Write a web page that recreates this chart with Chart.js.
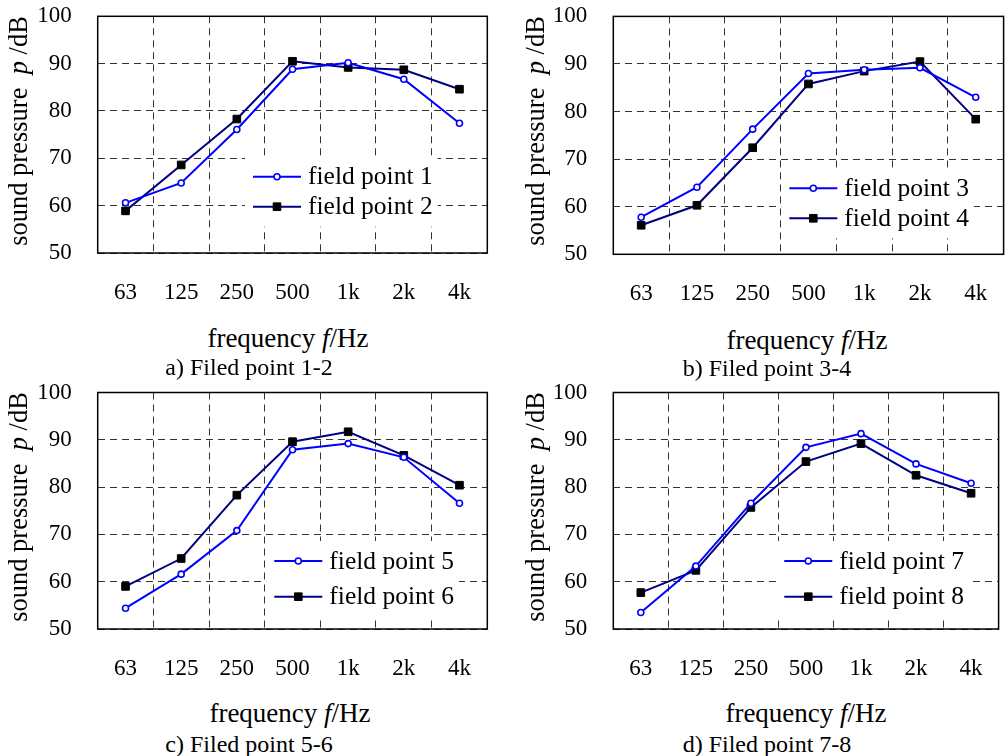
<!DOCTYPE html>
<html>
<head>
<meta charset="utf-8">
<script src="https://cdn.jsdelivr.net/npm/chart.js@4"></script>
<style>
  html, body { margin: 0; padding: 0; background: #fff; overflow: hidden; }
  body { width: 1005px; height: 756px; position: relative; font-family: "Liberation Serif", "Times New Roman", serif; color: #000; }
  canvas { position: absolute; }
  .lbl { position: absolute; white-space: nowrap; line-height: 1; transform: translate(-50%, -50%); }
  .ytitle { font-size: 26.5px; transform: translate(-50%, -50%) rotate(-90deg); }
  .xtitle { font-size: 27px; }
  .cap { font-size: 24px; }
</style>
</head>
<body>
<canvas id="chartA" width="500" height="320" style="left:0px;top:0px"></canvas>
<canvas id="chartB" width="510" height="320" style="left:500px;top:0px"></canvas>
<canvas id="chartC" width="500" height="320" style="left:0px;top:376px"></canvas>
<canvas id="chartD" width="505" height="320" style="left:500px;top:376px"></canvas>

<div class="lbl ytitle" style="left:18px;top:131px">sound pressure&nbsp;&nbsp;<i>p</i> /dB</div>
<div class="lbl ytitle" style="left:535px;top:131px">sound pressure&nbsp;&nbsp;<i>p</i> /dB</div>
<div class="lbl ytitle" style="left:18px;top:507px">sound pressure&nbsp;&nbsp;<i>p</i> /dB</div>
<div class="lbl ytitle" style="left:535px;top:507px">sound pressure&nbsp;&nbsp;<i>p</i> /dB</div>

<div class="lbl xtitle" style="left:288px;top:338px">frequency&nbsp;<i>f</i>/Hz</div>
<div class="lbl xtitle" style="left:807px;top:340px">frequency&nbsp;<i>f</i>/Hz</div>
<div class="lbl xtitle" style="left:290px;top:713px">frequency&nbsp;<i>f</i>/Hz</div>
<div class="lbl xtitle" style="left:806px;top:713px">frequency&nbsp;<i>f</i>/Hz</div>

<div class="lbl cap" style="left:249px;top:367px">a) Filed point 1-2</div>
<div class="lbl cap" style="left:767px;top:368px">b) Filed point 3-4</div>
<div class="lbl cap" style="left:249px;top:744px">c) Filed point 5-6</div>
<div class="lbl cap" style="left:767px;top:744px">d) Filed point 7-8</div>

<script>
'use strict';

// frequency bands and y ticks
var categories = ['63', '125', '250', '500', '1k', '2k', '4k'];
var yTicks = [50, 60, 70, 80, 90, 100];

// sound pressure per field point (dB)
var point1 = [60.6, 64.8, 76.1, 88.8, 90.2, 86.7, 77.4];
var point2 = [58.9, 68.6, 78.3, 90.5, 89.2, 88.7, 84.6];
var point3 = [57.8, 64.1, 76.3, 88.0, 88.8, 89.2, 83.0];
var point4 = [56.1, 60.3, 72.4, 85.8, 88.5, 90.5, 78.4];
var point5 = [54.4, 61.6, 70.8, 87.9, 89.2, 86.3, 76.6];
var point6 = [59.0, 64.9, 78.3, 89.6, 91.7, 86.7, 80.4];
var point7 = [53.5, 63.3, 76.6, 88.4, 91.3, 84.9, 80.8];
var point8 = [57.7, 62.4, 75.7, 85.4, 89.2, 82.5, 78.7];

var FONT = '"Liberation Serif", "Times New Roman", serif';

// draws the boxed frame and the legend inside the plot
var frameLegend = {
  id: 'frameLegend',
  beforeDatasetsDraw: function(chart) {
    var o = chart.options.plugins.frameLegend;
    var area = chart.chartArea;
    var ctx = chart.ctx;
    ctx.save();
    ctx.font = '25.5px ' + FONT;
    var maxW = 0;
    chart.data.datasets.forEach(function(ds) {
      maxW = Math.max(maxW, ctx.measureText(ds.label).width);
    });
    var x0 = area.left + o.x, y0 = area.top + o.y;
    ctx.fillStyle = '#fff';
    ctx.fillRect(x0 - 8, y0 - 20, 54 + maxW + 14, o.gap * (chart.data.datasets.length - 1) + 40);
    ctx.restore();
  },
  afterDatasetsDraw: function(chart) {
    var o = chart.options.plugins.frameLegend;
    var area = chart.chartArea;
    var ctx = chart.ctx;
    var x0 = area.left + o.x, y0 = area.top + o.y;
    ctx.save();
    chart.data.datasets.forEach(function(ds, i) {
      var y = y0 + i * o.gap;
      ctx.strokeStyle = ds.borderColor;
      ctx.lineWidth = ds.borderWidth;
      ctx.beginPath();
      ctx.moveTo(x0, y);
      ctx.lineTo(x0 + 48, y);
      ctx.stroke();
      ctx.fillStyle = ds.pointBackgroundColor;
      ctx.strokeStyle = ds.pointBorderColor;
      ctx.lineWidth = ds.pointBorderWidth;
      Chart.helpers.drawPoint(ctx, {
        pointStyle: ds.pointStyle, radius: ds.pointRadius,
        borderWidth: ds.pointBorderWidth, rotation: 0
      }, x0 + 24, y);
      ctx.fillStyle = '#000';
      ctx.font = '25.5px ' + FONT;
      ctx.textBaseline = 'middle';
      ctx.textAlign = 'left';
      ctx.fillText(ds.label, x0 + 55, y + 1);
    });
    ctx.strokeStyle = '#000';
    ctx.lineWidth = 1.5;
    ctx.strokeRect(area.left, area.top, area.right - area.left, area.bottom - area.top);
    ctx.restore();
  }
};

function circleSet(label, data) {
  return {
    label: label, data: data,
    borderColor: '#0000ff', borderWidth: 2,
    pointStyle: 'circle', pointRadius: 3, pointBorderWidth: 1.6,
    pointBackgroundColor: '#ffffff', pointBorderColor: '#0000ff',
    tension: 0
  };
}

function squareSet(label, data) {
  return {
    label: label, data: data,
    borderColor: '#000080', borderWidth: 2,
    pointStyle: 'rect', pointRadius: 5.4, pointBorderWidth: 1,
    pointBackgroundColor: '#000000', pointBorderColor: '#000000',
    tension: 0
  };
}

function makeChart(id, sets, box, leg) {
  var canvas = document.getElementById(id);
  var W = canvas.width, H = canvas.height;
  // tick marks are invisible; their length only pushes the labels away
  var gridOpts = { color: '#333333', lineWidth: 1, drawTicks: true, tickLength: 26, tickColor: 'rgba(0,0,0,0)' };
  var tickFont = { family: FONT, size: 23 };
  new Chart(canvas.getContext('2d'), {
    type: 'line',
    data: { labels: categories, datasets: sets },
    plugins: [frameLegend],
    options: {
      responsive: false,
      animation: false,
      layout: { padding: { left: 0, top: box.t, right: W - box.r, bottom: 0 } },
      plugins: {
        legend: { display: false },
        tooltip: { enabled: false },
        frameLegend: leg
      },
      scales: {
        x: {
          type: 'category',
          offset: true,
          grid: Object.assign({ offset: true }, gridOpts),
          border: { display: false, dash: [7, 5] },
          ticks: { color: '#000', font: tickFont, padding: 0, maxRotation: 0, autoSkip: false },
          afterFit: function(s) { s.height = H - box.b; }
        },
        y: {
          min: yTicks[0],
          max: yTicks[yTicks.length - 1],
          grid: gridOpts,
          border: { display: false, dash: [7, 5] },
          ticks: { color: '#000', font: tickFont, padding: 0 },
          afterBuildTicks: function(s) {
            s.ticks = yTicks.map(function(v) { return { value: v }; });
          },
          afterFit: function(s) { s.width = box.l; }
        }
      }
    }
  });
}

makeChart('chartA', [circleSet('field point 1', point1), squareSet('field point 2', point2)],
  { l: 97.7, t: 16.3, r: 487.3, b: 253 }, { x: 155.3, y: 160.4, gap: 30 });
makeChart('chartB', [circleSet('field point 3', point3), squareSet('field point 4', point4)],
  { l: 113.3, t: 16.4, r: 506, b: 254.3 }, { x: 176, y: 171.9, gap: 30 });
makeChart('chartC', [circleSet('field point 5', point5), squareSet('field point 6', point6)],
  { l: 97.7, t: 16.5, r: 487.3, b: 253 }, { x: 176.6, y: 168.5, gap: 35.7 });
makeChart('chartD', [circleSet('field point 7', point7), squareSet('field point 8', point8)],
  { l: 113.3, t: 16.5, r: 503.3, b: 253 }, { x: 171, y: 168.5, gap: 35.7 });
</script>
</body>
</html>
